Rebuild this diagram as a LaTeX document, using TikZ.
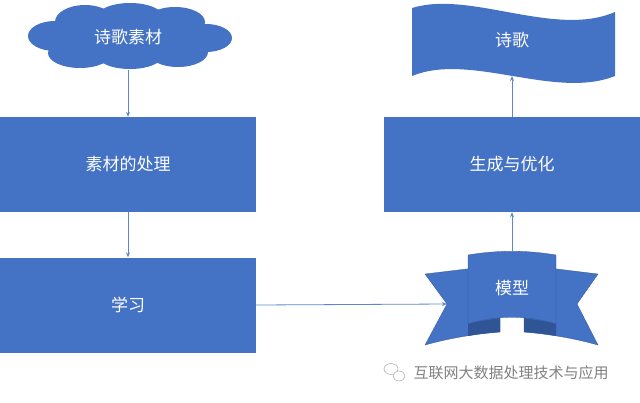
\documentclass[tikz,border=0pt]{standalone}
\usepackage{fontspec}
\setmainfont{Noto Sans CJK SC}
\usetikzlibrary{arrows.meta}
\definecolor{boxblue}{HTML}{4472C4}
\definecolor{foldblue}{HTML}{2F5597}
\definecolor{linkblue}{HTML}{5B87D0}
\tikzset{
  link/.style={draw=linkblue, line width=0.8pt, -{Stealth[length=5pt,width=4pt]}}, % connectors
  bluebox/.style={fill=boxblue, minimum width=256pt, minimum height=95pt, text=white, font=\fontsize{17}{20}\selectfont},
  label/.style={text=white, font=\fontsize{17}{20}\selectfont},
}
\begin{document}
\begin{tikzpicture}[x=1pt, y=-1pt]
\useasboundingbox (0,0) rectangle (640,402);

% left column: cloud from overlapping puffs
\foreach \cx/\cy/\rx/\ry in {55/36/27/15, 85/22/30/17, 130/18/34/15, 175/22/30/15, 206/38/26/14,
                             178/52/30/15, 130/54/34/15, 80/53/32/15, 128/37/80/22}
  \fill[boxblue] (\cx,\cy) ellipse ({\rx pt} and {\ry pt});
\node[label, minimum height=66pt] (source) at (128,37) {诗歌素材};
\node[bluebox] (prep) at (128,164.5) {素材的处理};
\node[bluebox] (learn) at (128,305) {学习};

% ribbon
\filldraw[boxblue, draw=foldblue, line width=0.3pt] (500,265) -- (425,274) -- (447,304) -- (425,345) .. controls (450,338) and (475,334) .. (500,332) -- cycle;
\filldraw[boxblue, draw=foldblue, line width=0.3pt] (524,265) -- (598,274) -- (577,304) -- (598,345) .. controls (573,338) and (548,334) .. (524,332) -- cycle;
\fill[foldblue] (468,323) -- (500,318) -- (500,332) .. controls (488,333) and (478,334) .. (468,336) -- cycle;
\fill[foldblue] (556,323) -- (524,318) -- (524,332) .. controls (536,333) and (546,334) .. (556,336) -- cycle;
\filldraw[boxblue, draw=foldblue, line width=0.3pt] (468,255) .. controls (498,250) and (526,250) .. (556,255) -- (556,324)
  .. controls (526,315) and (498,315) .. (468,324) -- cycle;
\node[label] (model) at (512,288) {模型};
\coordinate (modeltop) at (512,252);
\coordinate (modelin) at (447,304);

% right column
\node[bluebox] (refine) at (512,164.5) {生成与优化};
\fill[boxblue] (412,8) .. controls (470,-10) and (555,38) .. (615,12) -- (615,76)
  .. controls (555,100) and (470,52) .. (412,76) -- cycle;
\node[label] (poem) at (512,40) {诗歌};
\coordinate (poembottom) at (512,76);

\draw[link] (source.south) -- (prep.north);
\draw[link] (prep.south) -- (learn.north);
\draw[link] (learn.east) -- (modelin);
\draw[link] (modeltop) -- (refine.south);
\draw[link] (refine.north) -- (poembottom);

% watermark
\draw[gray!60, line width=0.6pt] (391,369) ellipse (7pt and 5.5pt);
\draw[gray!60, line width=0.6pt, fill=white] (399,376) ellipse (6pt and 5pt);
\node[text=gray, font=\fontsize{15}{18}\selectfont, anchor=west] (mark) at (410,373) {互联网大数据处理技术与应用};
\end{tikzpicture}
\end{document}
